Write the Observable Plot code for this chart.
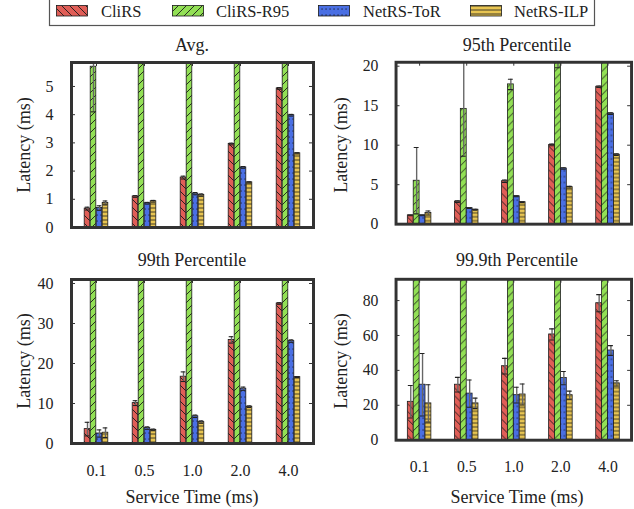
<!DOCTYPE html>
<html><head><meta charset="utf-8">
<script src="https://cdn.jsdelivr.net/npm/d3@7"></script>
<script src="https://cdn.jsdelivr.net/npm/@observablehq/plot@0.6"></script>
<style>
html,body{margin:0;padding:0;width:634px;height:509px;overflow:hidden;background:#fff;font-family:"Liberation Serif","Times New Roman",serif;color:#222}
.panel{position:absolute}
.title,.xlab{position:absolute;font-size:18px;transform:translate(-50%,-50%);white-space:nowrap;line-height:1}
.ylab{position:absolute;font-size:18px;transform:translate(-50%,-50%) rotate(-90deg);white-space:nowrap;line-height:1}
</style></head><body>
<svg width="0" height="0" style="position:absolute">
<defs>
<pattern id="pCliRS" patternUnits="userSpaceOnUse" width="8" height="8">
<rect width="8" height="8" fill="#E05E57"/>
<path d="M0,0L8,8M-1,7L1,9M7,-1L9,1" stroke="#1a1a1a" stroke-width="0.9"/>
</pattern>
<pattern id="pR95" patternUnits="userSpaceOnUse" width="8" height="8">
<rect width="8" height="8" fill="#92E055"/>
<path d="M0,8L8,0M-1,1L1,-1M7,9L9,7" stroke="#1a1a1a" stroke-width="0.9"/>
</pattern>
<pattern id="pToR" patternUnits="userSpaceOnUse" width="4" height="6">
<rect width="4" height="6" fill="#4A6FE3"/>
<rect x="1.5" y="2.5" width="1.1" height="1.1" fill="#111"/>
</pattern>
<pattern id="pILP" patternUnits="userSpaceOnUse" width="4" height="4">
<rect width="4" height="4" fill="#E8C552"/>
<path d="M0,2H4" stroke="#1a1a1a" stroke-width="0.8"/>
</pattern>
</defs>
</svg>
<div id="root"></div>
<script>
// ---- data ----
const groups = ["0.1", "0.5", "1.0", "2.0", "4.0"];
const series = ["CliRS", "CliRS-R95", "NetRS-ToR", "NetRS-ILP"];
const patterns = ["url(#pCliRS)", "url(#pR95)", "url(#pToR)", "url(#pILP)"];

// Avg.
const avgCliRS = [0.67, 1.10, 1.77, 2.96, 4.93];
const avgR95   = [5.7, 8.5, 12.0, 17.0, 26.0];   // beyond 0.1: off-scale estimates
const avgToR   = [0.69, 0.86, 1.20, 2.13, 3.98];
const avgILP   = [0.87, 0.93, 1.15, 1.60, 2.63];
const avgErrCliRS = [0.05, 0.03, 0.05, 0.03, 0.03];
const avgErrR95   = [1.6, 0, 0, 0, 0];
const avgErrToR   = [0.08, 0.03, 0.04, 0.03, 0.03];
const avgErrILP   = [0.07, 0.03, 0.04, 0.02, 0.02];

// 95th percentile
const p95CliRS = [1.12, 2.86, 5.44, 10.04, 17.4];
const p95R95   = [5.5, 14.6, 17.7, 20.6, 32.0];
const p95ToR   = [1.12, 2.03, 3.53, 7.05, 14.0];
const p95ILP   = [1.41, 1.83, 2.78, 4.69, 8.8];
const p95ErrCliRS = [0.05, 0.1, 0.15, 0.1, 0.1];
const p95ErrR95   = [4.2, 6.0, 0.66, 0.8, 1.0];
const p95ErrToR   = [0.05, 0.05, 0.05, 0.1, 0.1];
const p95ErrILP   = [0.25, 0.05, 0.05, 0.1, 0.1];

// 99th percentile
const p99CliRS = [3.6, 10.1, 16.7, 25.9, 35.0];
const p99R95   = [48, 62, 85, 110, 150];          // off-scale estimates
const p99ToR   = [2.5, 3.85, 6.8, 13.7, 25.6];
const p99ILP   = [2.7, 3.4, 5.35, 9.2, 16.6];
const p99ErrCliRS = [1.7, 0.6, 1.2, 0.8, 0.2];
const p99ErrR95   = [0, 0, 0, 0, 0];
const p99ErrToR   = [0.9, 0.3, 0.3, 0.4, 0.3];
const p99ErrILP   = [1.2, 0.2, 0.3, 0.2, 0.1];

// 99.9th percentile
const p999CliRS = [22.0, 31.8, 42.4, 60.6, 78.5];
const p999R95   = [105, 130, 160, 210, 300];      // off-scale estimates
const p999ToR   = [31.8, 26.7, 25.8, 35.6, 51.4];
const p999ILP   = [21.1, 21.1, 26.2, 25.8, 32.6];
const p999ErrCliRS = [9.3, 4.2, 4.5, 3.2, 4.9];
const p999ErrR95   = [0, 0, 0, 0, 0];
const p999ErrToR   = [17.9, 7.8, 4.5, 3.8, 2.8];
const p999ErrILP   = [10.7, 3.0, 6.0, 2.3, 1.5];

const avgTicks = [0, 1, 2, 3, 4, 5];
const p95Ticks = [0, 5, 10, 15, 20];
const p99Ticks = [0, 10, 20, 30, 40];
const p999Ticks = [0, 20, 40, 60, 80];

const titles = ["Avg.", "95th Percentile", "99th Percentile", "99.9th Percentile"];
const yLabel = "Latency (ms)";
const xLabel = "Service Time (ms)";

// ---- layout ----
const root = document.getElementById("root");
const cols = [{left: 0, width: 320, ml: 71, mr: 7}, {left: 320, width: 320, ml: 77, mr: 3}];
const rows = [{top: 50, height: 190, mt: 12, mb: 13}, {top: 268, height: 241, mt: 11, mb: 66}];

function addText(cls, text, x, y) {
  const d = document.createElement("div");
  d.className = cls;
  d.textContent = text;
  d.style.left = x + "px";
  d.style.top = y + "px";
  root.appendChild(d);
}

function panel(title, vals, errs, yDomain, yTicks, col, row, showX) {
  const data = groups.flatMap((g, i) => series.map((s, j) => ({group: g, series: s, value: vals[j][i], err: errs[j][i]})));
  const iw = col.width - col.ml - col.mr;
  const ih = row.height - row.mt - row.mb;
  const bw = iw / groups.length;
  const barW = 6, capW = 5;
  const marks = [];
  series.forEach((s, j) => {
    const d = data.filter(r => r.series === s);
    const dx = (j - 1.5) * barW;
    marks.push(Plot.barY(d, {x: "group", y: "value", fill: "series", stroke: "#1a1a1a", strokeWidth: 0.8,
      dx, insetLeft: (bw - barW) / 2, insetRight: (bw - barW) / 2, clip: true}));
  });
  series.forEach((s, j) => {
    const d = data.filter(r => r.series === s && r.err > 0);
    const dx = (j - 1.5) * barW;
    marks.push(Plot.ruleX(d, {x: "group", y1: r => r.value - r.err, y2: r => r.value + r.err, dx,
      stroke: "#666", strokeWidth: 1.4, clip: true}));
    for (const sign of [1, -1]) {
      marks.push(Plot.tickY(d, {x: "group", y: r => r.value + sign * r.err, dx,
        insetLeft: (bw - capW) / 2, insetRight: (bw - capW) / 2, stroke: "#222", strokeWidth: 1.1, clip: true}));
    }
  });
  // inward ticks on left/right/top
  marks.push(Plot.ruleY(yTicks, {y: d => d, insetRight: iw - 4, stroke: "#333", strokeWidth: 1}));
  marks.push(Plot.ruleY(yTicks, {y: d => d, insetLeft: iw - 4, stroke: "#333", strokeWidth: 1}));
  marks.push(Plot.ruleX(groups, {x: d => d, insetBottom: ih - 4, stroke: "#333", strokeWidth: 1}));
  marks.push(Plot.frame({stroke: "#333", strokeWidth: 3}));

  const svg = Plot.plot({
    width: col.width, height: row.height,
    marginLeft: col.ml, marginRight: col.mr, marginTop: row.mt, marginBottom: row.mb,
    style: {fontFamily: '"Liberation Serif", "Times New Roman", serif', fontSize: "16px", color: "#222", background: "transparent", overflow: "visible"},
    x: {domain: groups, padding: 0, tickSize: 0, tickPadding: 21, label: null, axis: showX ? "bottom" : null},
    y: {domain: yDomain, ticks: yTicks, tickFormat: d => String(d), tickSize: 0, tickPadding: 18, label: null},
    color: {type: "ordinal", domain: series, range: patterns},
    marks
  });
  const wrap = document.createElement("div");
  wrap.className = "panel";
  wrap.style.left = col.left + "px";
  wrap.style.top = row.top + "px";
  wrap.appendChild(svg);
  root.appendChild(wrap);

  const cx = col.left + col.ml + iw / 2;
  const cy = row.top + row.mt + ih / 2;
  addText("title", title, cx, row.top - 5 + (row === rows[0] ? 0 : -3));
  addText("ylab", yLabel, col.left + (col === cols[0] ? 24 : 21), cy);
  if (showX) addText("xlab", xLabel, cx, 497);
}

panel(titles[0], [avgCliRS, avgR95, avgToR, avgILP], [avgErrCliRS, avgErrR95, avgErrToR, avgErrILP], [0, 5.85], avgTicks, cols[0], rows[0], false);
panel(titles[1], [p95CliRS, p95R95, p95ToR, p95ILP], [p95ErrCliRS, p95ErrR95, p95ErrToR, p95ErrILP], [0, 20.5], p95Ticks, cols[1], rows[0], false);
panel(titles[2], [p99CliRS, p99R95, p99ToR, p99ILP], [p99ErrCliRS, p99ErrR95, p99ErrToR, p99ErrILP], [0, 41], p99Ticks, cols[0], rows[1], true);
panel(titles[3], [p999CliRS, p999R95, p999ToR, p999ILP], [p999ErrCliRS, p999ErrR95, p999ErrToR, p999ErrILP], [0, 92.2], p999Ticks, cols[1], rows[1], true);

// ---- legend ----
const NS = "http://www.w3.org/2000/svg";
const lg = document.createElementNS(NS, "svg");
lg.setAttribute("width", 634); lg.setAttribute("height", 30);
lg.style.position = "absolute"; lg.style.left = "0px"; lg.style.top = "0px";
const box = document.createElementNS(NS, "rect");
box.setAttribute("x", 49.5); box.setAttribute("y", -5); box.setAttribute("width", 545); box.setAttribute("height", 30.5);
box.setAttribute("fill", "none"); box.setAttribute("stroke", "#555"); box.setAttribute("stroke-width", 1.2);
lg.appendChild(box);
const swX = [56, 172, 318, 470], txX = [101, 216, 363, 514];
series.forEach((s, j) => {
  const r = document.createElementNS(NS, "rect");
  r.setAttribute("x", swX[j] + 0.5); r.setAttribute("y", 5.5); r.setAttribute("width", 31); r.setAttribute("height", 10.5);
  r.setAttribute("fill", patterns[j]); r.setAttribute("stroke", "#1a1a1a"); r.setAttribute("stroke-width", 0.8);
  lg.appendChild(r);
  const t = document.createElementNS(NS, "text");
  t.setAttribute("x", txX[j]); t.setAttribute("y", 17);
  t.setAttribute("font-size", 16.5); t.setAttribute("fill", "#222");
  t.setAttribute("font-family", '"Liberation Serif", "Times New Roman", serif');
  t.textContent = s;
  lg.appendChild(t);
});
root.appendChild(lg);
</script>
</body></html>
